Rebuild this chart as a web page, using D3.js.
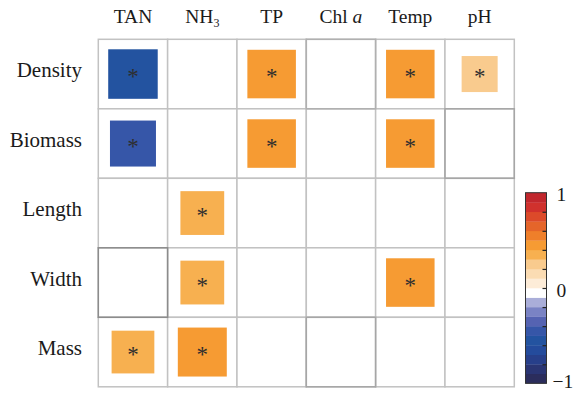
<!DOCTYPE html>
<html>
<head>
<meta charset="utf-8">
<script src="https://cdn.jsdelivr.net/npm/d3@7"></script>
<style>
  html, body { margin: 0; padding: 0; background: #fff; }
  svg { display: block; }
  text { font-family: "Liberation Serif", "DejaVu Serif", serif; fill: #1a1a1a; }
</style>
</head>
<body>
<svg id="chart" width="576" height="393"></svg>
<script>
// Correlation matrix: response traits (rows) vs. environmental factors (columns).
// null = not significant (cell left blank).
const rowNames = ["Density", "Biomass", "Length", "Width", "Mass"];
const colNames = ["TAN", "NH3", "TP", "Chl a", "Temp", "pH"];

const densityR = [-0.51, null, 0.49, null, 0.49, 0.27];
const biomassR = [-0.44, null, 0.49, null, 0.49, null];
const lengthR  = [null, 0.399, null, null, null, null];
const widthR   = [null, 0.399, null, null, 0.49, null];
const massR    = [0.38, 0.499, null, null, null, null];

// Colour key, from -1 (bottom) to 1 (top), 0.1 per band
const palette = [
  "#2b2d5c", "#2a3573", "#273f8a", "#244b9c", "#2353a0",
  "#3656a8", "#5563b2", "#7a83c4", "#aaaed9", "#ffffff",
  "#fdecd8", "#fbdcb3", "#f9cb8e", "#f7b050", "#f69b33",
  "#ef7f2a", "#e5652a", "#dc4a2a", "#d0312d", "#c1272d"
];
const keyTickValues = [-0.8, -0.6, -0.4, -0.2, 0, 0.2, 0.4, 0.6, 0.8];
const keyLabelValues = [-1, 0, 1];

const matrix = [densityR, biomassR, lengthR, widthR, massR];
const cells = [];
rowNames.forEach((r, i) => colNames.forEach((c, j) => cells.push({ row: r, col: c, r: matrix[i][j] })));

const svg = d3.select("#chart");

const x = d3.scaleBand().domain(colNames).range([98.3, 514.3]);
const y = d3.scaleBand().domain(rowNames).range([39.3, 386.8]);
const color = d3.scaleQuantize().domain([-1, 1]).range(palette);
const side = d3.scaleSqrt().domain([0, 1]).range([0, Math.min(x.bandwidth(), y.bandwidth())]);

// grid
const grid = svg.append("g");
grid.selectAll("rect").data(cells).join("rect")
  .attr("x", d => x(d.col)).attr("y", d => y(d.row))
  .attr("width", x.bandwidth()).attr("height", y.bandwidth())
  .attr("fill", "#fff").attr("stroke", "#c2c2c2").attr("stroke-width", 1.5);

// a few cell outlines render darker
const darkCells = [
  { row: "Width", col: "TAN", stroke: "#8c8c8c" },
  { row: "Biomass", col: "pH", stroke: "#a6a6a6" },
  { row: "Density", col: "Chl a", stroke: "#b0b0b0" },
  { row: "Mass", col: "Chl a", stroke: "#a6a6a6" }
];
grid.selectAll("rect.dark").data(darkCells).join("rect")
  .attr("class", "dark")
  .attr("x", d => x(d.col)).attr("y", d => y(d.row))
  .attr("width", x.bandwidth()).attr("height", y.bandwidth())
  .attr("fill", "none").attr("stroke", d => d.stroke).attr("stroke-width", 1.5);

// squares
const sig = cells.filter(d => d.r !== null);
svg.append("g").selectAll("rect").data(sig).join("rect")
  .attr("x", d => x(d.col) + x.bandwidth() / 2 - side(Math.abs(d.r)) / 2)
  .attr("y", d => y(d.row) + y.bandwidth() / 2 - side(Math.abs(d.r)) / 2)
  .attr("width", d => side(Math.abs(d.r)))
  .attr("height", d => side(Math.abs(d.r)))
  .attr("fill", d => color(d.r));

// significance marks
svg.append("g").selectAll("text").data(sig).join("text")
  .attr("x", d => x(d.col) + x.bandwidth() / 2)
  .attr("y", d => y(d.row) + y.bandwidth() / 2 + 10)
  .attr("text-anchor", "middle")
  .attr("font-size", 23)
  .style("fill", "#2e2e2e")
  .text("*");

// row labels
svg.append("g").selectAll("text").data(rowNames).join("text")
  .attr("x", 82)
  .attr("y", d => y(d) + y.bandwidth() / 2 + 3)
  .attr("text-anchor", "end")
  .attr("font-size", 21)
  .text(d => d);

// column labels
const colLab = svg.append("g").selectAll("text").data(colNames).join("text")
  .attr("x", d => x(d) + x.bandwidth() / 2)
  .attr("y", 23)
  .attr("text-anchor", "middle")
  .attr("font-size", 19.5);
colLab.each(function (d) {
  const t = d3.select(this);
  if (d === "NH3") {
    t.append("tspan").text("NH");
    t.append("tspan").attr("font-size", 12).attr("dy", 4).text("3");
  } else if (d === "Chl a") {
    t.append("tspan").text("Chl ");
    t.append("tspan").attr("font-style", "italic").text("a");
  } else {
    t.text(d);
  }
});

// colour key
const keyX = 525.5, keyW = 21;
const ky = d3.scaleLinear().domain([-1, 1]).range([383.3, 192.7]);
const step = 2 / palette.length;
const key = svg.append("g");
key.selectAll("rect").data(palette).join("rect")
  .attr("x", keyX)
  .attr("y", (c, i) => ky(-1 + (i + 1) * step))
  .attr("width", keyW)
  .attr("height", (c, i) => ky(-1 + i * step) - ky(-1 + (i + 1) * step) + 0.3)
  .attr("fill", c => c);
key.append("rect")
  .attr("x", keyX).attr("y", ky(1))
  .attr("width", keyW).attr("height", ky(-1) - ky(1))
  .attr("fill", "none").attr("stroke", "#333").attr("stroke-width", 1);

const tickAxis = d3.axisLeft(ky).tickValues(keyTickValues).tickSize(4).tickFormat("");
key.append("g").attr("transform", `translate(${keyX + keyW},0)`).call(tickAxis)
  .call(g => g.select(".domain").remove())
  .call(g => g.selectAll("line").attr("stroke", "#222").attr("stroke-width", 1.2));

const labelAxis = d3.axisRight(ky).tickValues(keyLabelValues).tickSize(0).tickPadding(10)
  .tickFormat(v => v < 0 ? "\u2212" + Math.abs(v) : String(v));
key.append("g").attr("transform", `translate(${keyX + keyW},2)`).call(labelAxis)
  .call(g => g.select(".domain").remove())
  .call(g => g.selectAll("text")
    .attr("font-family", "Liberation Serif, serif")
    .attr("font-size", 19.5)
    .attr("dx", v => v < 0 ? -4 : 0)
    .attr("y", v => v < 0 ? -4 : 0)
    .style("fill", "#1a1a1a"));
</script>
</body>
</html>
